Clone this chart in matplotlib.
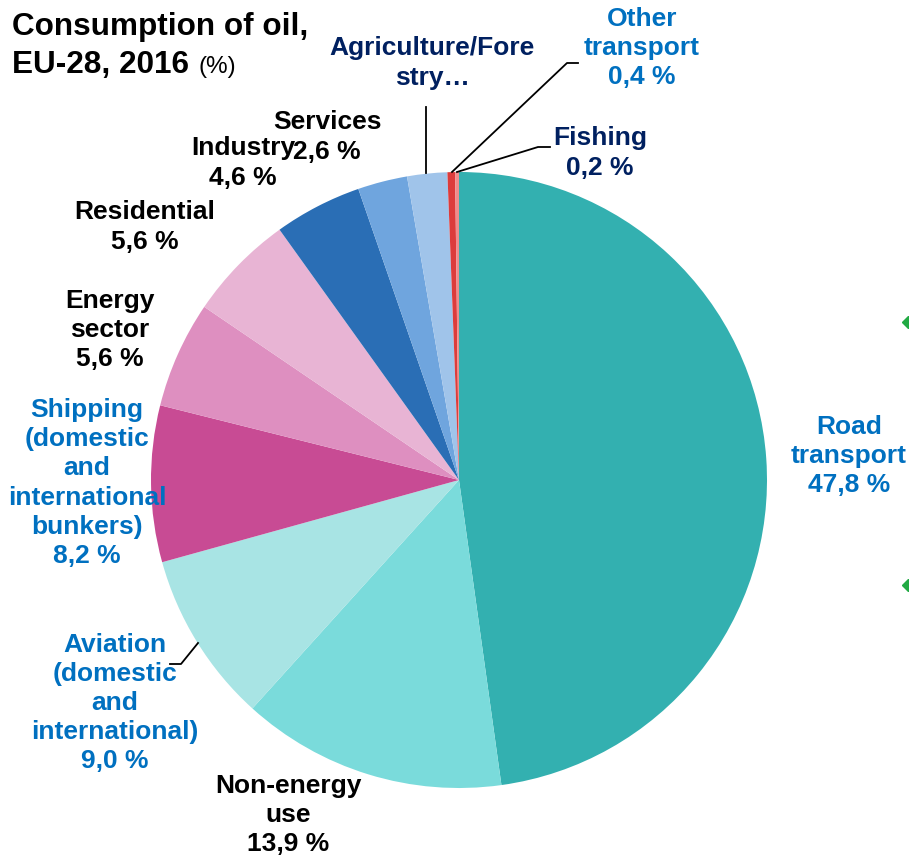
import matplotlib
matplotlib.use("Agg")
import numpy as np
from matplotlib import pyplot as plt

# Consumption of oil by sector, EU-28, 2016 (%)
sectors = ["Road transport", "Non-energy use", "Aviation", "Shipping",
           "Energy sector", "Residential", "Industry", "Services",
           "Agriculture/Forestry", "Other transport", "Fishing"]
shares = [47.8, 13.9, 9.0, 8.2, 5.6, 5.6, 4.6, 2.6, 2.1, 0.4, 0.2]
colors = ["#33b0b0", "#7adbdb", "#a8e4e4", "#c84b94", "#de8fc0", "#e8b4d4",
          "#2a6eb5", "#6fa5de", "#a0c4ea", "#dc3c3c", "#f08c8c"]

label_names = ["Road\ntransport", "Non-energy\nuse",
               "Aviation\n(domestic\nand\ninternational)",
               "Shipping\n(domestic\nand\ninternational\nbunkers)",
               "Energy\nsector", "Residential", "Industry", "Services",
               "Agriculture/Fore\nstry\u2026", "Other\ntransport", "Fishing"]
show_value = [True, True, True, True, True, True, True, True, False, True, True]

BLUE = "#0070c0"
NAVY = "#002060"
label_colors = [BLUE, "black", BLUE, BLUE, "black", "black", "black", "black",
                NAVY, BLUE, NAVY]
# label centres in pixels (x, y from top)
label_pos = [(849, 456), (288, 815), (115, 703), (87, 483), (110, 330),
             (145, 227), (243, 163), (327, 137), (432, 63), (642, 48),
             (600, 153)]

W, H = 909, 860
plt.rcParams['font.family'] = ['Liberation Sans', 'DejaVu Sans']
fig = plt.figure(figsize=(W / 100, H / 100), dpi=100)
ax = fig.add_axes([0, 0, 1, 1])


def Y(py):
    return H - py


cx, cy, r = 459, 480, 308
ax.pie(shares, colors=colors, startangle=90, counterclock=False,
       center=(cx, Y(cy)), radius=r, wedgeprops=dict(linewidth=0))
ax.set_xlim(0, W)
ax.set_ylim(0, H)
ax.set_aspect('equal')
ax.axis('off')

for name, val, shown, col, (px, py) in zip(label_names, shares, show_value,
                                           label_colors, label_pos):
    txt = name
    if shown:
        txt += "\n" + f"{val:.1f}".replace(".", ",") + " %"
    ax.text(px, Y(py), txt, ha='center', va='center', fontsize=19,
            fontweight='bold', color=col, linespacing=1.27)

# leader lines
leaders = [
    [(426, 107), (426, 173)],
    [(452, 172), (567, 63), (578, 63)],
    [(457, 172), (538, 147), (550, 147)],
    [(198, 643), (181, 664), (170, 664)],
]
for pts in leaders:
    xs = [p[0] for p in pts]
    ys = [Y(p[1]) for p in pts]
    ax.plot(xs, ys, color='black', linewidth=1.3)

# title
fig.text(12 / W, 1 - 27 / H, "Consumption of oil,", fontsize=22.7,
         fontweight='bold', va='center', ha='left')
t = fig.text(12 / W, 1 - 65 / H, "EU-28, 2016", fontsize=22.7,
             fontweight='bold', va='center', ha='left')
fig.canvas.draw()
bb = t.get_window_extent()
fig.text((bb.x1 + 9) / W, 1 - 67 / H, "(%)", fontsize=17.5, va='center',
         ha='left')

# small markers at the right edge
ax.plot([908, 908], [Y(322), Y(585)], 'D', color='#22aa44', markersize=6,
        clip_on=True)

fig.savefig("out.png", dpi=100)
